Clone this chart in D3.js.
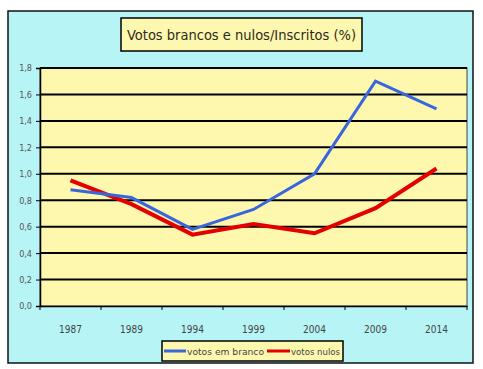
<!DOCTYPE html>
<html><head><meta charset="utf-8">
<script src="https://cdn.jsdelivr.net/npm/d3@7"></script>
<style>body{margin:0;background:#fff;}svg{display:block;}</style>
</head><body><svg id="c" width="483" height="369"></svg>
<script>
const years = ["1987","1989","1994","1999","2004","2009","2014"];
const brancos = [0.88, 0.82, 0.58, 0.73, 1.00, 1.70, 1.49];
const nulos = [0.95, 0.77, 0.54, 0.62, 0.55, 0.74, 1.04];
const yTicks = [0,0.2,0.4,0.6,0.8,1.0,1.2,1.4,1.6,1.8];
const title = "Votos brancos e nulos/Inscritos (%)";
const seriesNames = ["votos em branco","votos nulos"];
const colors = ["#3a66dd","#e50000"];

const svg = d3.select("#c");
const font = "Tahoma, 'DejaVu Sans Condensed', 'Liberation Sans Narrow', sans-serif";
svg.append("rect").attr("x",8).attr("y",11).attr("width",465).attr("height",352)
  .attr("fill","#b7f4f6").attr("stroke","#111").attr("stroke-width",1.5);

const L=40,R=467,T=68,B=306;
const x = d3.scaleBand().domain(years).range([L,R]);
const y = d3.scaleLinear().domain([0,1.8]).range([B,T]);

svg.append("rect").attr("x",L).attr("y",T).attr("width",R-L).attr("height",B-T)
  .attr("fill","#fdf8ae").attr("stroke","#444").attr("stroke-width",1);

svg.append("g").selectAll("line").data(yTicks.filter(d=>d>0)).join("line")
  .attr("x1",L).attr("x2",R).attr("y1",d=>y(d)).attr("y2",d=>y(d))
  .attr("stroke","#000").attr("stroke-width",2);

const ya = svg.append("g").attr("transform",`translate(${L},0)`)
  .call(d3.axisLeft(y).tickValues(yTicks).tickSize(4).tickFormat(d=>d3.format(".1f")(d).replace(".",",")));
ya.select(".domain").attr("stroke","#000").attr("stroke-width",1.5);
ya.selectAll(".tick line").attr("stroke","#000");
ya.selectAll("text").attr("font-family",font).attr("font-size",9).attr("fill","#555").attr("dx",-1);

const xa = svg.append("g").attr("transform",`translate(0,${B})`)
  .call(d3.axisBottom(x).tickSize(0).tickPadding(20));
xa.select(".domain").attr("stroke","#000").attr("stroke-width",1.5);
xa.selectAll("text").attr("font-family",font).attr("font-size",10).attr("fill","#444");
svg.append("g").selectAll("line").data(years.map(d=>x(d)).concat([x.range()[1]])).join("line")
  .attr("x1",d=>d).attr("x2",d=>d).attr("y1",B).attr("y2",B+4).attr("stroke","#000").attr("stroke-width",1);

const line = d3.line().x((d,i)=>x(years[i])+x.bandwidth()/2).y(d=>y(d));
svg.append("path").datum(nulos).attr("d",line).attr("fill","none").attr("stroke",colors[1]).attr("stroke-width",4);
svg.append("path").datum(brancos).attr("d",line).attr("fill","none").attr("stroke",colors[0]).attr("stroke-width",3);

svg.append("rect").attr("x",121).attr("y",18).attr("width",241).attr("height",33)
  .attr("fill","#fdf8b0").attr("stroke","#000").attr("stroke-width",1.5);
svg.append("text").attr("x",241.5).attr("y",40).attr("text-anchor","middle")
  .attr("font-family",font).attr("font-size",14.5).attr("fill","#2e2a18").text(title);

svg.append("rect").attr("x",162).attr("y",341).attr("width",181).attr("height",20)
  .attr("fill","#fdf8ae").attr("stroke","#000").attr("stroke-width",1.5);
const lg=[{x1:164,x2:186,tx:187},{x1:267,x2:290,tx:291}];
lg.forEach((g,i)=>{
  svg.append("line").attr("x1",g.x1).attr("x2",g.x2).attr("y1",351).attr("y2",351)
    .attr("stroke",colors[i]).attr("stroke-width",3);
  svg.append("text").attr("x",g.tx).attr("y",354.5).attr("font-family",font).attr("font-size",9.5)
    .attr("fill","#444").attr("textLength",i==0?77:49).attr("lengthAdjust","spacingAndGlyphs").text(seriesNames[i]);
});
</script></body></html>
